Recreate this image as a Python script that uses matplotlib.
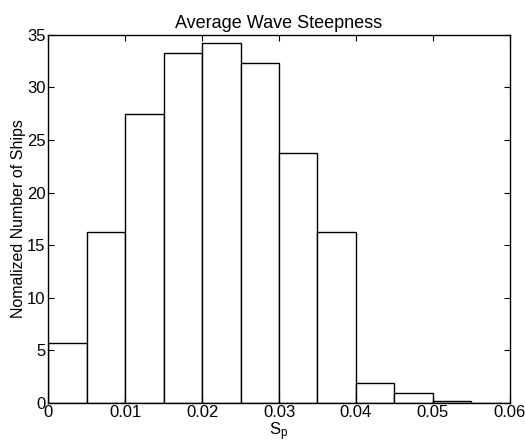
import matplotlib

matplotlib.use("Agg")
import matplotlib.pyplot as plt

plt.rcParams["font.family"] = ["Liberation Sans", "DejaVu Sans"]
plt.rcParams["mathtext.default"] = "regular"

bin_edges = [0, 0.005, 0.01, 0.015, 0.02, 0.025, 0.03, 0.035, 0.04, 0.045, 0.05, 0.055, 0.06]
counts = [5.7, 16.2, 27.5, 33.3, 34.2, 32.3, 23.8, 16.2, 1.9, 0.93, 0.1, 0.0]

x_ticks = [0, 0.01, 0.02, 0.03, 0.04, 0.05, 0.06]
x_tick_labels = ["0", "0.01", "0.02", "0.03", "0.04", "0.05", "0.06"]
y_ticks = [0, 5, 10, 15, 20, 25, 30, 35]

fig = plt.figure(figsize=(5.25, 4.43), dpi=100)
ax = fig.add_axes([0.092, 0.0914, 0.879, 0.8296])

widths = [bin_edges[i + 1] - bin_edges[i] for i in range(len(counts))]
ax.bar(bin_edges[:-1], counts, width=widths, align="edge",
       facecolor="white", edgecolor="black", linewidth=1.0)

ax.set_xlim(0, 0.06)
ax.set_ylim(0, 35)
ax.set_xticks(x_ticks)
ax.set_xticklabels(x_tick_labels)
ax.set_yticks(y_ticks)
ax.tick_params(direction="in", top=True, right=True, length=4, labelsize=12, pad=2)
for spine in ax.spines.values():
    spine.set_linewidth(1.0)

ax.set_title("Average Wave Steepness", fontsize=13, pad=5)
ax.set_xlabel("S$_p$", fontsize=12, labelpad=0)
ax.set_ylabel("Nomalized Number of Ships", fontsize=11.5, labelpad=1)

fig.savefig("out.png", dpi=100)
plt.close(fig)
